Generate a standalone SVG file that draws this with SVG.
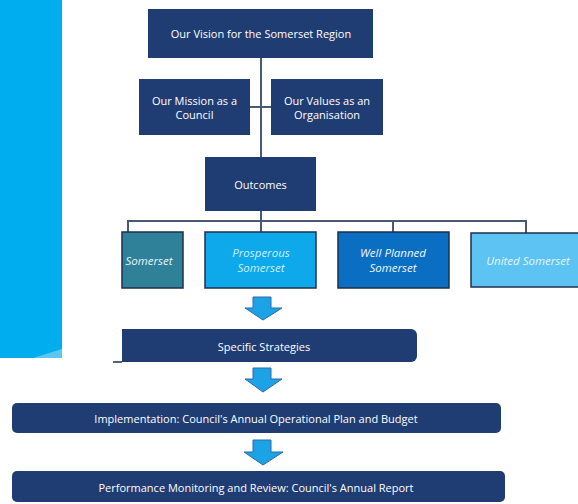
<svg xmlns="http://www.w3.org/2000/svg" width="578" height="504" viewBox="0 0 578 504">
<style>
.navy{fill:#1F3C73}
.t{font-family:"Open Sans","Noto Sans",sans-serif;font-size:11px;fill:#ffffff;text-anchor:middle;dominant-baseline:central}
.ti{font-family:"Open Sans","Noto Sans",sans-serif;font-size:11.5px;font-style:italic;text-anchor:middle;dominant-baseline:central}
.ln{stroke:#4A5A72;stroke-width:2;fill:none}
.ob{stroke:#1F2F4F;stroke-width:1.5}
.arr{fill:#1CA3E6;stroke:#2C6BA8;stroke-width:1}
</style>
<rect width="578" height="504" fill="#ffffff"/>
<g id="panel">
<rect x="0" y="0" width="62" height="358" fill="#00AEEF"/>
<polygon points="33,358 62,349 62,358" fill="#5CC8F2"/>
</g>
<g id="connectors">
<line class="ln" x1="261" y1="58" x2="261" y2="157"/>
<line class="ln" x1="250" y1="107" x2="271" y2="107"/>
<line class="ln" x1="261" y1="211" x2="261" y2="232"/>
<polyline class="ln" points="128,232 128,221 526,221 526,233"/>
<line class="ln" x1="393" y1="221" x2="393" y2="232"/>
<line x1="113" y1="362" x2="122" y2="362" stroke="#1F2F4F" stroke-width="1.5"/>
<polygon class="arr" points="253,297 271,297 271,308 282,308 263,320 245,308 253,308"/>
<polygon class="arr" points="253,368 271,368 271,379 282,379 263,392 245,379 253,379"/>
<polygon class="arr" points="253,440 271,440 271,452 283,452 263,465 244,452 253,452"/>
</g>
<g id="vision">
<rect class="navy" x="148" y="9" width="225" height="49"/>
<text class="t" x="261" y="33">Our Vision for the Somerset Region</text>
</g>
<g id="mission">
<rect class="navy" x="139" y="79" width="111" height="56"/>
<text class="t" x="194.5" y="100">Our Mission as a</text>
<text class="t" x="194.5" y="114">Council</text>
</g>
<g id="values">
<rect class="navy" x="271" y="79" width="112" height="56"/>
<text class="t" x="327" y="100">Our Values as an</text>
<text class="t" x="327" y="114">Organisation</text>
</g>
<g id="outcomes">
<rect class="navy" x="205" y="157" width="111" height="54"/>
<text class="t" x="260.5" y="184">Outcomes</text>
</g>
<g id="healthy">
<rect class="ob" x="122" y="232" width="61" height="56" fill="#2E8199"/>
<text class="ti" x="149" y="260" fill="#E8F4F8">Somerset</text>
</g>
<g id="prosperous">
<rect class="ob" x="205" y="232" width="111" height="56" fill="#0EA9EA"/>
<text class="ti" x="261" y="252" fill="#CDEFFC">Prosperous</text>
<text class="ti" x="261" y="267" fill="#CDEFFC">Somerset</text>
</g>
<g id="wellplanned">
<rect class="ob" x="338" y="232" width="111" height="56" fill="#0A6FC2"/>
<text class="ti" x="393" y="252" fill="#F2F7FC">Well Planned</text>
<text class="ti" x="393" y="267" fill="#F2F7FC">Somerset</text>
</g>
<g id="united">
<rect class="ob" x="471" y="233" width="110" height="54" fill="#5CC3F2"/>
<text class="ti" x="528" y="260" fill="#E4F5FD">United Somerset</text>
</g>
<g id="strategies">
<path class="navy" d="M122,329 H411 A6,6 0 0 1 417,335 V356 A6,6 0 0 1 411,362 H122 Z"/>
<text class="t" x="264" y="346">Specific Strategies</text>
</g>
<g id="implementation">
<rect class="navy" x="12" y="403" width="489" height="30" rx="5"/>
<text class="t" x="256" y="418">Implementation: Council's Annual Operational Plan and Budget</text>
</g>
<g id="performance">
<rect class="navy" x="12" y="471" width="493" height="31" rx="5"/>
<text class="t" x="256" y="487">Performance Monitoring and Review: Council's Annual Report</text>
</g>
</svg>
